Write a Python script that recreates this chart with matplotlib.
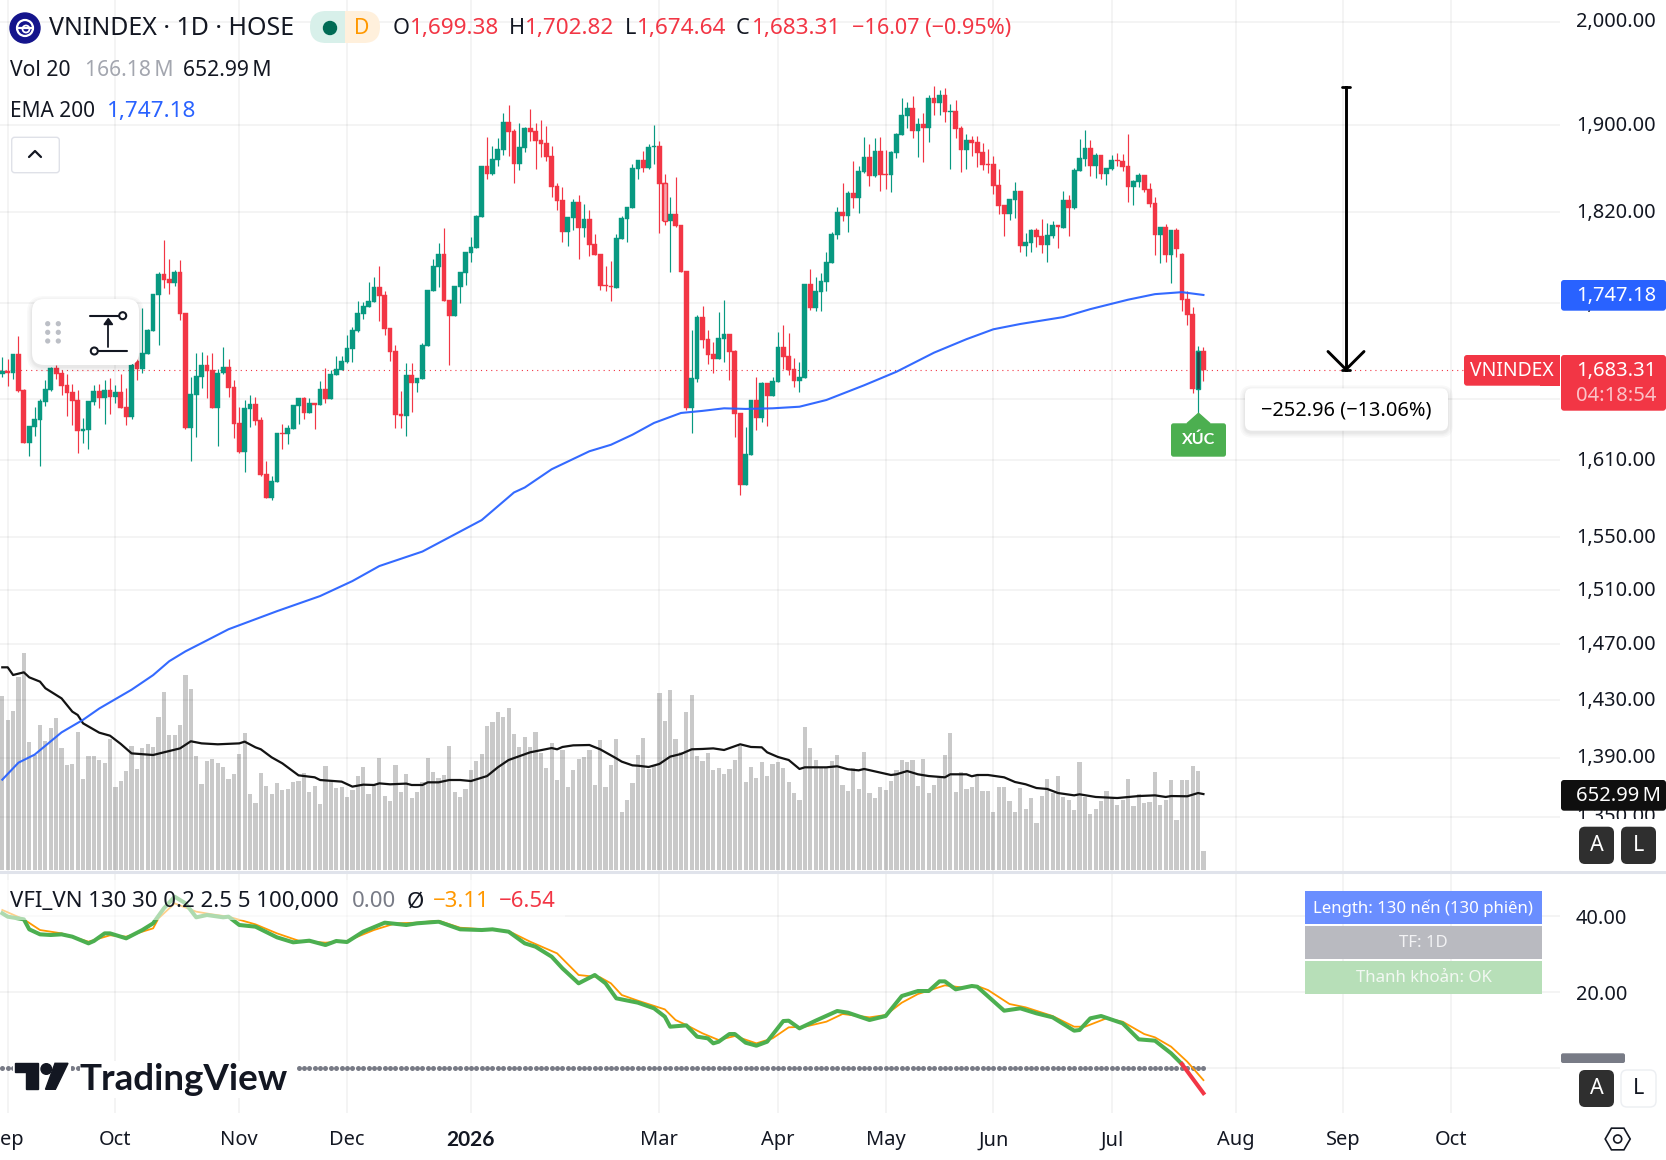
import numpy as np
import matplotlib
matplotlib.use('Agg')
from matplotlib import pyplot as plt
from matplotlib import patches as mpatches
from matplotlib.ticker import NullLocator
from matplotlib.transforms import ScaledTranslation

plt.rcParams['font.family'] = ['Noto Sans', 'DejaVu Sans']

# nến ngày
opens = [
    1680.5, 1682.7, 1681.3, 1697, 1667, 1624.2, 1637.1, 1642.5, 1657.5, 1667,
    1685, 1680.8, 1671.1, 1665.1, 1658.8, 1633.9, 1634.4, 1657.2, 1666.2, 1660.7,
    1667, 1661.5, 1665.4, 1653.1, 1645.2, 1691.4, 1684.7, 1697, 1716.7, 1747.2,
    1765.3, 1761, 1757.8, 1767.1, 1731.4, 1636, 1662.9, 1678, 1687.8, 1683.6,
    1652.6, 1680.8, 1686.1, 1669.5, 1639.8, 1616.8, 1651.5, 1655.5, 1642.5, 1599,
    1580, 1592.9, 1632, 1631.2, 1635, 1654.2, 1660.7, 1648.4, 1656.1, 1654.7,
    1667.8, 1659.6, 1679.4, 1683.6, 1690.3, 1701.4, 1716.4, 1730.8, 1737.1, 1741.1,
    1754, 1747.2, 1718.9, 1699.5, 1647.4, 1646, 1679.4, 1673, 1676, 1703.7,
    1750.6, 1771.5, 1783, 1742.9, 1729.1, 1754, 1766.3, 1783.8, 1788.5, 1815.8,
    1862.2, 1854.8, 1867.8, 1877, 1903.2, 1894.8, 1864.1, 1878.9, 1897.6, 1894.8,
    1886.3, 1883.5, 1871.5, 1843.9, 1831.2, 1802.5, 1814.9, 1829.4, 1806, 1814,
    1791.8, 1783, 1755.8, 1754.9, 1753.2, 1796.2, 1814, 1824, 1859.5, 1867.8,
    1860.4, 1879.8, 1880.7, 1846.3, 1812.3, 1818.5, 1808.7, 1768, 1652.3, 1676,
    1728.3, 1709.7, 1697, 1692.8, 1709.7, 1713.9, 1699.5, 1648.2, 1590.6, 1614.4,
    1658.8, 1644.1, 1672.7, 1662.1, 1673.6, 1702.8, 1695.3, 1684.4, 1674.4, 1676.9,
    1756.7, 1736, 1749.8, 1758.4, 1775, 1799.8, 1820.3, 1816.7, 1837.5, 1833,
    1856.7, 1870.6, 1853, 1876.1, 1854.5, 1853.9, 1874, 1890.7, 1908.8, 1916.4,
    1894.8, 1901.3, 1897.6, 1925.9, 1921.2, 1928.8, 1912.6, 1913.5, 1897.6, 1877,
    1886.3, 1884.2, 1875.2, 1864.1, 1864.1, 1844.8, 1826.6, 1818.5, 1831.2, 1839.3,
    1790, 1792.7, 1804.3, 1798.9, 1790.9, 1798.9, 1808.7, 1806, 1831.2, 1824,
    1857.6, 1868.7, 1878.9, 1862.2, 1872.4, 1854.8, 1859.5, 1867.8, 1866.9, 1862.2,
    1843, 1847.5, 1853.9, 1841.1, 1828.5, 1799.8, 1806.9, 1782.1, 1804.3, 1783,
    1743.7, 1730.8, 1667.8, 1699.38,
]
closes = [
    1682.7, 1681.3, 1697, 1666.2, 1624.2, 1637.7, 1643.3, 1658, 1667.8, 1685,
    1680.5, 1670.6, 1664.8, 1658.3, 1633.9, 1635.3, 1658, 1666.2, 1660.7, 1667,
    1661.5, 1665.4, 1652.6, 1645.2, 1687.8, 1684.7, 1697.5, 1717, 1748.1, 1765.3,
    1760.1, 1757.5, 1767.1, 1730.8, 1636, 1663.7, 1678.5, 1687.8, 1682.7, 1652.6,
    1681.3, 1686.1, 1668.9, 1639.3, 1616.8, 1652, 1655.5, 1641.7, 1598.5, 1580,
    1593.7, 1631.8, 1631.2, 1635.8, 1654.7, 1660.7, 1648.4, 1656.1, 1654.7, 1667.8,
    1659.6, 1680.2, 1684.1, 1691.1, 1702, 1717.3, 1731.7, 1737.7, 1742, 1754,
    1746.3, 1718.4, 1698.9, 1646.8, 1646, 1679.4, 1673, 1676.9, 1704.5, 1751.5,
    1772.4, 1783, 1742.3, 1729.1, 1754.9, 1767.1, 1784.7, 1789.1, 1816.7, 1862.2,
    1855.2, 1868.7, 1877.9, 1903.2, 1893.8, 1864.1, 1879.8, 1897.6, 1893.8, 1885.4,
    1882.6, 1870.6, 1843, 1830.3, 1802.5, 1815.8, 1829.4, 1806, 1814, 1790.9,
    1782.1, 1754.9, 1754.9, 1754, 1797.1, 1814.9, 1824.9, 1860.4, 1867.8, 1860.4,
    1879.8, 1880.7, 1845.7, 1812.6, 1818.5, 1807.8, 1767.1, 1652.3, 1676.9, 1728.3,
    1708.8, 1696.1, 1692.8, 1710.5, 1713.9, 1698.6, 1647.4, 1590.6, 1615.2, 1658.8,
    1644.1, 1672.7, 1662.1, 1674.4, 1702.8, 1694.5, 1683.6, 1674.4, 1677.7, 1756.7,
    1736, 1750.6, 1759.2, 1775.9, 1800.7, 1820.3, 1816.7, 1837.5, 1833, 1857.6,
    1870.6, 1853, 1876.1, 1853.9, 1853.9, 1875.2, 1891.6, 1909.7, 1916.4, 1894.8,
    1901.3, 1897.6, 1925.9, 1921.2, 1928.8, 1912.6, 1913.5, 1896.6, 1877, 1886.3,
    1883.5, 1874, 1863.2, 1863.2, 1843.9, 1825.7, 1818.5, 1832.1, 1839.3, 1790,
    1793.6, 1804.3, 1798, 1790.9, 1799.8, 1808.7, 1806.9, 1831.2, 1824, 1858.5,
    1869.7, 1878.9, 1862.2, 1872.4, 1854.8, 1860.4, 1867.8, 1866.9, 1861.3, 1843,
    1848.4, 1853.9, 1840.2, 1827.6, 1799.8, 1806.9, 1782.1, 1804.3, 1787.3, 1742.9,
    1730, 1667.8, 1699.5, 1683.31,
]
highs = [
    1694.2, 1692.5, 1697, 1712.2, 1667.6, 1637.7, 1652.8, 1659.4, 1675.2, 1686.4,
    1687.8, 1683.6, 1680.2, 1671.9, 1667, 1644.1, 1658, 1671.1, 1671.9, 1675.2,
    1676.6, 1671.1, 1680.2, 1668.4, 1689.2, 1700.3, 1735.8, 1717.8, 1748.1, 1766.8,
    1795.3, 1778.6, 1768.9, 1777.7, 1731.4, 1678, 1697.5, 1698.9, 1696.1, 1697.5,
    1684.1, 1703.1, 1692.5, 1675.2, 1652.8, 1658.8, 1662.9, 1661, 1644.7, 1609.6,
    1597.7, 1631.8, 1639, 1638.5, 1654.7, 1660.7, 1661.5, 1660.2, 1656.6, 1674.1,
    1685, 1683.6, 1695.6, 1695.6, 1713, 1719.5, 1742, 1741.4, 1758.7, 1763,
    1772.4, 1750.6, 1719.2, 1704.5, 1666.2, 1689.2, 1689.2, 1677.1, 1706, 1751.5,
    1778.6, 1792.4, 1806, 1742.9, 1754.9, 1767.1, 1784.7, 1798, 1817.6, 1862.2,
    1889.1, 1880.7, 1888.2, 1911.6, 1919.3, 1896.3, 1902.3, 1898.5, 1915.4, 1902,
    1905.1, 1899.4, 1880.7, 1846.6, 1843, 1815.8, 1832.1, 1835.7, 1827.6, 1822.1,
    1800.7, 1783, 1772.4, 1776.8, 1800.7, 1816.7, 1824.9, 1864.1, 1867.8, 1876.1,
    1882.6, 1900.4, 1885.4, 1854.8, 1833.9, 1852, 1808.7, 1768, 1717.3, 1730,
    1737.7, 1717.3, 1707, 1732.5, 1742.9, 1713.9, 1700.3, 1648.2, 1636.9, 1658.8,
    1677.7, 1673.6, 1672.7, 1677.7, 1715.6, 1721.5, 1714.7, 1693.6, 1690.3, 1756.7,
    1769.8, 1762.7, 1766.3, 1784.7, 1802.5, 1824.9, 1846.6, 1839.3, 1866.9, 1862.2,
    1889.1, 1882.6, 1888.2, 1889.1, 1877, 1876.1, 1892.6, 1925.9, 1922.1, 1927.8,
    1906.9, 1911.6, 1928.8, 1937.4, 1933.6, 1935.5, 1920.2, 1924, 1899.4, 1891.6,
    1889.8, 1889.8, 1883.5, 1877.9, 1871.5, 1859.5, 1826.6, 1832.1, 1847.5, 1839.3,
    1801.6, 1805.1, 1806, 1814, 1810.5, 1812.3, 1808.7, 1839.3, 1835.7, 1860.4,
    1887.3, 1895.7, 1886.3, 1874, 1872.4, 1860.4, 1872.4, 1874, 1873.3, 1891.6,
    1849.3, 1855.8, 1853.9, 1846.6, 1833.9, 1806.9, 1809.6, 1804.3, 1806, 1783.8,
    1750.6, 1736.9, 1703.7, 1702.82,
]
lows = [
    1678, 1670.6, 1676, 1665.6, 1624, 1613.6, 1629.6, 1605.6, 1653.9, 1666.5,
    1676, 1662.9, 1645.7, 1638.5, 1616.2, 1624.2, 1619.4, 1654.8, 1652, 1639.3,
    1647.1, 1656.1, 1652, 1638.5, 1643.6, 1675.2, 1681.3, 1697, 1716.7, 1704.9,
    1752.9, 1748.1, 1754.9, 1725.7, 1635.3, 1609.6, 1629.1, 1668.4, 1660.7, 1652.6,
    1621.5, 1680.2, 1661.5, 1627.7, 1615.7, 1600.9, 1637.1, 1638.5, 1598, 1580,
    1578.9, 1592.9, 1619.1, 1623.1, 1635, 1639.3, 1643.3, 1647.9, 1635.3, 1654.7,
    1656.6, 1659.6, 1679.4, 1683.6, 1689.7, 1690.3, 1715.8, 1726.6, 1737.1, 1741.1,
    1725.2, 1713, 1691.1, 1636.3, 1636.3, 1629.6, 1649.3, 1665.6, 1676, 1703.7,
    1750.6, 1754.4, 1742.3, 1687.8, 1729.1, 1740.6, 1755.8, 1775.6, 1788.5, 1815.8,
    1850.2, 1853.9, 1862.2, 1872.4, 1871.5, 1846.6, 1858.5, 1875.2, 1885.4, 1859.5,
    1870.6, 1866.9, 1833.9, 1822.1, 1793.6, 1790, 1804.3, 1778.6, 1798, 1781.2,
    1782.1, 1751.5, 1750.6, 1742, 1753.2, 1796.2, 1793.6, 1824, 1850.2, 1856.7,
    1859.5, 1864.1, 1801.6, 1808.7, 1767.1, 1806.9, 1767.1, 1650.6, 1632, 1673.6,
    1702, 1688.6, 1681, 1692.8, 1690.3, 1675.2, 1628.8, 1582.8, 1590.6, 1614.4,
    1634.4, 1640.9, 1637.7, 1662.1, 1673.6, 1684.4, 1679.4, 1669.5, 1665.4, 1676.9,
    1734.2, 1733.4, 1733.4, 1750.6, 1775, 1796.2, 1812.3, 1802.5, 1824, 1819.4,
    1855.8, 1843.9, 1852, 1839.3, 1841.1, 1838.4, 1869.7, 1890.7, 1897.6, 1888.2,
    1870.6, 1865.9, 1884.5, 1909.7, 1909.7, 1903.2, 1859.5, 1888.2, 1856.7, 1859.5,
    1871.5, 1861, 1858.5, 1855.8, 1836.6, 1818.5, 1798.9, 1813.2, 1814.9, 1784.7,
    1781.2, 1784.7, 1789.1, 1783.8, 1775.9, 1797.1, 1788.2, 1806, 1798.9, 1823.1,
    1857.6, 1862.2, 1853, 1851.2, 1850.2, 1844.8, 1858.5, 1862.2, 1857.6, 1829.4,
    1826.6, 1843, 1838.4, 1824.9, 1782.1, 1775, 1775.9, 1757.5, 1780.3, 1733.4,
    1721.5, 1664.6, 1647.9, 1674.64,
]

# khối lượng (triệu)
volumes = [
    1497, 1290, 1370, 1663, 1869, 1101, 989, 1247, 1110, 1221,
    1307, 1049, 903, 912, 1187, 783, 981, 981, 946, 920,
    1127, 714, 765, 852, 1067, 869, 1049, 1084, 1058, 1316,
    1531, 1161, 1161, 1247, 1677, 1557, 981, 740, 938, 955,
    920, 886, 783, 826, 998, 1178, 654, 576, 834, 722,
    654, 748, 688, 697, 757, 765, 834, 671, 722, 568,
    895, 765, 705, 714, 628, 688, 808, 886, 654, 731,
    963, 636, 593, 903, 671, 826, 619, 671, 757, 963,
    843, 791, 817, 1067, 671, 628, 697, 860, 938, 998,
    1239, 1273, 1359, 1316, 1393, 1170, 1058, 1144, 1058, 1187,
    1006, 877, 1092, 774, 1032, 714, 860, 955, 972, 1032,
    731, 1118, 714, 903, 1127, 499, 602, 748, 989, 1135,
    869, 903, 1522, 1282, 1548, 1127, 1015, 1359, 1505, 981,
    938, 1006, 860, 877, 826, 869, 946, 1067, 757, 886,
    791, 929, 808, 912, 929, 877, 757, 662, 602, 1230,
    1049, 946, 877, 877, 938, 989, 731, 679, 877, 697,
    1015, 662, 619, 714, 688, 765, 860, 946, 929, 946,
    722, 955, 662, 731, 791, 989, 1178, 671, 843, 697,
    714, 817, 679, 679, 499, 714, 714, 593, 499, 705,
    525, 619, 404, 636, 783, 662, 808, 628, 602, 516,
    929, 628, 482, 525, 593, 679, 628, 559, 602, 783,
    550, 654, 576, 585, 843, 559, 602, 774, 430, 774,
    774, 895, 851, 166.18,
]
vol_ma_sessions = [
    0, 1, 2, 4, 5, 7, 8, 11, 13, 14, 15, 18, 20, 22, 24, 28, 30, 33, 35, 37, 40,
    44, 45, 47, 48, 50, 52, 55, 58, 59, 63, 65, 67, 69, 70, 72, 75, 76, 78, 79,
    81, 83, 85, 87, 90, 92, 94, 98, 102, 103, 104, 106, 109, 111, 114, 115, 117,
    118, 120, 122, 124, 126, 128, 130, 132, 134, 137, 139, 141, 142, 144, 146,
    148, 149, 153, 155, 157, 159, 160, 165, 166, 168, 170, 172, 175, 176, 179,
    180, 181, 183, 186, 188, 190, 192, 194, 196, 199, 200, 203, 207, 211, 214,
    216, 217, 220, 222, 223,
]
vol_ma_values = [
    1743, 1743, 1677, 1700, 1657, 1620, 1563, 1476, 1362, 1333, 1261, 1181, 1155,
    1084, 1003, 989, 1012, 1046, 1107, 1089, 1081, 1089, 1104, 1055, 1038, 969,
    917, 814, 797, 774, 760, 717, 734, 731, 745, 737, 743, 731, 731, 754, 754,
    774, 774, 765, 808, 883, 946, 1012, 1049, 1038, 1058, 1072, 1075, 1038, 960,
    932, 900, 897, 886, 912, 975, 998, 1038, 1041, 1046, 1032, 1081, 1058, 1055,
    1012, 972, 946, 869, 883, 883, 892, 866, 857, 869, 817, 823, 851, 823, 808,
    797, 823, 823, 806, 817, 817, 797, 757, 737, 705, 697, 662, 642, 651, 628,
    619, 636, 642, 628, 636, 634, 662, 652.99,
]

# EMA 200
ema_sessions = [
    0, 3, 6, 11, 15, 18, 24, 28, 31, 34, 38, 42, 51, 59, 65, 70, 78, 83, 89, 95,
    97, 102, 109, 113, 117, 121, 126, 130, 134, 138, 143, 148, 153, 160, 166,
    173, 179, 184, 189, 197, 202, 209, 214, 219, 223,
]
ema_values = [
    1375, 1386.6, 1392.1, 1407.5, 1416.3, 1424.2, 1437.5, 1447.9, 1457.9, 1465,
    1473, 1481.1, 1494.4, 1505.6, 1516.8, 1528.1, 1539.1, 1550, 1563.2, 1584.7,
    1588.6, 1603, 1617.3, 1622.5, 1630.6, 1640.1, 1648.2, 1649.9, 1652, 1651.5,
    1652, 1653.3, 1658.8, 1670.9, 1682.1, 1698.1, 1709.4, 1717.8, 1722.3, 1728.2,
    1735, 1743.1, 1747.9, 1749.6, 1747.18,
]

# VFI_VN
vfi_sessions = [
    0, 1, 4, 5, 7, 9, 11, 13, 16, 17, 19, 20, 23, 26, 28, 30, 32, 34, 36, 38, 41,
    42, 44, 47, 51, 54, 57, 60, 62, 64, 67, 71, 75, 77, 81, 85, 89, 91, 94, 97,
    99, 102, 104, 107, 110, 112, 114, 118, 121, 123, 124, 127, 129, 131, 132, 133,
    135, 136, 138, 140, 142, 145, 146, 148, 151, 155, 157, 161, 164, 167, 170,
    172, 174, 175, 177, 180, 181, 186, 189, 192, 195, 199, 200, 202, 204, 208,
    211, 214, 217, 219,
]
vfi_values = [
    40.78, 39.9, 39.2, 36.57, 35.25, 35.08, 35.25, 34.64, 32.88, 33.5, 35.51,
    35.51, 34.2, 36.39, 38.15, 42.09, 45.16, 43.41, 39.73, 40.34, 39.73, 39.9,
    37.71, 37.27, 34.46, 33.15, 33.58, 32.44, 33.5, 33.23, 35.95, 38.32, 37.71,
    38.15, 38.58, 36.57, 36.39, 36.57, 35.95, 32.88, 32.0, 29.37, 26.3, 22.36,
    24.55, 22.36, 18.41, 17.27, 15.78, 13.59, 10.95, 11.3, 8.32, 7.88, 6.57, 7.0,
    9.02, 9.02, 6.74, 5.95, 7.0, 12.44, 12.53, 10.51, 12.53, 15.08, 14.64, 12.71,
    13.76, 19.02, 20.34, 20.34, 22.88, 22.88, 20.78, 21.66, 21.48, 15.16, 15.78,
    14.46, 13.41, 9.9, 10.08, 13.15, 13.76, 11.83, 7.62, 7.27, 3.94, 1.13,
]
vfi_neg_sessions = [219, 223]
vfi_neg_values = [1.13, -6.54]
signal_sessions = [
    0, 4, 7, 11, 16, 20, 23, 28, 29, 32, 36, 39, 42, 47, 51, 55, 60, 64, 69, 73,
    77, 81, 85, 94, 98, 103, 107, 111, 113, 115, 118, 123, 125, 127, 130, 133,
    136, 140, 143, 146, 149, 153, 156, 161, 164, 167, 170, 175, 178, 181, 183,
    187, 190, 195, 199, 201, 205, 208, 212, 214, 217, 220, 223,
]
signal_values = [
    41.66, 39.2, 36.39, 35.51, 33.32, 35.0, 34.64, 36.83, 39.46, 43.41, 41.22,
    40.5, 39.9, 37.88, 35.51, 33.58, 33.06, 33.5, 36.39, 38.15, 38.32, 38.85, 37.0,
    36.13, 33.32, 30.25, 24.55, 23.94, 22.36, 19.29, 17.8, 15.51, 12.71, 11.39,
    9.2, 7.44, 8.5, 6.57, 7.88, 10.78, 10.95, 12.27, 14.29, 13.41, 14.02, 17.27,
    19.55, 21.83, 21.3, 21.66, 20.6, 16.92, 16.04, 13.76, 10.95, 10.95, 13.15,
    12.27, 9.02, 8.15, 5.69, 1.74, -3.11,
]

price_ticks = [2000, 1900, 1820, 1740, 1660, 1610, 1550, 1510, 1470, 1430, 1390, 1350]
vfi_ticks = [40, 20, 0]
time_ticks = [1, 21, 44, 64, 87, 122, 144, 164, 184, 206, 229, 249, 269]
time_labels = ['Sep', 'Oct', 'Nov', 'Dec', '2026', 'Mar', 'Apr', 'May', 'Jun', 'Jul', 'Aug', 'Sep', 'Oct']
last_close = 1683.31
arrow_from = 1936.27
arrow_session = 249.5

GREEN = '#089981'
RED = '#f23645'
BLUE = '#2962ff'
TEXT = '#131722'
THIN = '\u2009'
W, H = 1666, 1160
PANE1_BOTTOM = 871
PANE2_TOP, PANE2_BOTTOM = 874, 1113
SCALE_LEFT = 1560
# session -> pixel: x = 2.3 + 5.386 * i
XLIM = (-0.427, 289.2)


def rect_of(top, bottom, right=SCALE_LEFT):
    return [0, (H - bottom) / H, right / W, (bottom - top) / H]


def clean(ax):
    for spine in ax.spines.values():
        spine.set_visible(False)
    ax.patch.set_alpha(0)
    ax.tick_params(length=0)


fig = plt.figure(figsize=(W / 100, H / 100), dpi=100, facecolor='white')
sessions = np.arange(len(opens))

# khối lượng nằm dưới nến
vol_ax = fig.add_axes(rect_of(0, PANE1_BOTTOM), zorder=1)
vol_ax.bar(sessions, volumes, width=0.78, color='#c9c9c9', linewidth=0)
vol_ax.plot(vol_ma_sessions, vol_ma_values, color='#131313', lw=1.6, solid_joinstyle='round')
vol_ax.set_xlim(XLIM)
vol_ax.set_ylim(-8.6, 870 * 8.6)
vol_ax.axis('off')

# giá
ax = fig.add_axes(rect_of(0, PANE1_BOTTOM), zorder=2)
clean(ax)
ax.set_yscale('log')
ax.set_xlim(XLIM)
ax.set_ylim(1314.3, 2021.4)
ax.yaxis.set_minor_locator(NullLocator())
ax.set_yticks(price_ticks)
ax.set_yticklabels([f'{p:,.2f}' for p in price_ticks], fontsize=14.4, color=TEXT)
ax.yaxis.tick_right()
ax.tick_params(axis='y', pad=11.5)
for tick in ax.yaxis.get_major_ticks():
    tick.label2.set_transform(tick.label2.get_transform() + ScaledTranslation(0, 2 / 100, fig.dpi_scale_trans))
ax.set_xticks(time_ticks)
ax.set_xticklabels([])
ax.grid(True, color='black', alpha=0.055, lw=1.1, zorder=0)
ax.set_axisbelow(True)

colors = [GREEN if c >= o else RED for o, c in zip(opens, closes)]
ax.axhline(last_close, color=RED, lw=0.8, ls=(0, (1, 3.6)), zorder=1)
ax.vlines(sessions, lows, highs, colors=colors, lw=0.85, zorder=2)
body_low = np.minimum(opens, closes)
body_high = np.maximum(opens, closes)
ax.bar(sessions, body_high - body_low, bottom=body_low, width=0.88, color=colors,
       edgecolor=colors, linewidth=0.3, zorder=3)
# 2 nến đang được chọn
ax.bar([123], [opens[123] - closes[123]], bottom=[closes[123]], width=0.72,
       color='#f5a3ab', edgecolor=RED, linewidth=1, zorder=4)
ax.bar([222], [closes[222] - opens[222]], bottom=[opens[222]], width=0.72,
       color='#2c3e48', edgecolor=GREEN, linewidth=1, zorder=4)
ax.plot(ema_sessions, ema_values, color=BLUE, lw=1.5, zorder=5, alpha=0.95)
ax.plot([arrow_session, arrow_session], [arrow_from, last_close], color='black', lw=2.1, zorder=6)

# VFI
osc = fig.add_axes(rect_of(PANE2_TOP, PANE2_BOTTOM), zorder=2)
clean(osc)
osc.set_xlim(XLIM)
osc.set_ylim(-11.76, 51.13)
osc.set_yticks(vfi_ticks)
osc.set_yticklabels(['0.00' if v == 0 else f'{v:.2f}' for v in vfi_ticks], fontsize=14.4, color=TEXT)
osc.get_yticklabels()[-1].set_visible(False)
osc.yaxis.tick_right()
osc.tick_params(axis='y', pad=11.5)
osc.set_xticks(time_ticks)
osc.set_xticklabels(time_labels, fontsize=14.4, color=TEXT)
osc.tick_params(axis='x', pad=12.5)
bold_tick = osc.get_xticklabels()[4]
bold_tick.set_fontfamily('Lato')
bold_tick.set_fontweight('bold')
bold_tick.set_fontsize(15)
osc.grid(True, color='black', alpha=0.055, lw=1.1, zorder=0)
osc.set_axisbelow(True)
osc.plot(sessions, np.zeros(len(sessions)), ls='none', marker='o', ms=3.6, color='#787b86', mew=0, zorder=2)
osc.plot(signal_sessions, signal_values, color='#ff9800', lw=1.3, zorder=3)
osc.plot(vfi_sessions, vfi_values, color='#4caf50', lw=2.9, zorder=4, solid_joinstyle='round')
osc.plot(vfi_neg_sessions, vfi_neg_values, color=RED, lw=2.9, zorder=5)

# lớp giao diện, toạ độ pixel
ui = fig.add_axes([0, 0, 1, 1], zorder=5)
ui.set_xlim(0, W)
ui.set_ylim(H, 0)
ui.axis('off')


def box(x0, y0, x1, y1, color, round_px=0, edge='none', lw=0, alpha=None, z=2):
    style = f'round,pad=0,rounding_size={round_px}' if round_px else 'square,pad=0'
    p = mpatches.FancyBboxPatch((x0, y0), x1 - x0, y1 - y0, boxstyle=style, facecolor=color,
                                edgecolor=edge, linewidth=lw, alpha=alpha, zorder=z)
    ui.add_patch(p)


def shadow(x0, y0, x1, y1, round_px):
    for grow in (5, 3.5, 2, 1):
        box(x0 - grow, y0 - grow + 2, x1 + grow, y1 + grow + 2, 'black', round_px + grow, alpha=0.022, z=2)


def label(x, y, s, color=TEXT, size=15.2, ha='left', weight='normal', z=4, **kw):
    ui.text(x, y + 2.3, s, color=color, fontsize=size, ha=ha, va='center', weight=weight, zorder=z, **kw)


def seg(xs, ys, color='black', lw=1.5, z=3):
    ui.plot(xs, ys, color=color, lw=lw, zorder=z, solid_capstyle='round')


# dải phân cách và phần che thang giá
seg([0, W], [871.7, 871.7], '#e0e3eb', 2.2, 2)
box(1561, 819, W, 871, 'white')
box(1561, 1063, W, 1113, 'white', z=3)

# legend trên cùng
ui.add_patch(mpatches.Circle((25, 28), 15, color='#14148c', zorder=3))
ui.add_patch(mpatches.Circle((25, 28), 8, fill=False, edgecolor='white', lw=1.6, zorder=4))
seg([18, 32], [28, 28], 'white', 1.6, 4)
ui.add_patch(mpatches.Circle((26, 29), 3.5, fill=False, edgecolor='white', lw=1.3, zorder=4))
label(49, 26, 'VNINDEX · 1D · HOSE', size=18)
box(310, 11, 360, 43, '#d8f0ea', 16)
box(345, 11, 380, 43, '#fff0dc', 16)
box(345, 11, 362, 43, '#fff0dc', 0)
ui.add_patch(mpatches.Circle((330, 28), 6.5, color='#006b55', zorder=3))
label(361.5, 26, 'D', '#ff9800', 15.2, ha='center')
for x, s in [(393, 'O'), (509, 'H'), (625, 'L'), (736, 'C')]:
    label(x, 26, s, size=15.6)
for x, s in [(410, '1,699.38'), (525, '1,702.82'), (636.5, '1,674.64'), (752, '1,683.31')]:
    label(x, 26, s, RED, 16.2)
label(852, 26, '−16.07 (−0.95%)', RED, 15.6)
label(10.5, 68, 'Vol 20')
label(85.4, 68, f'166.18{THIN}M', '#a3a6af')
label(182.7, 68, f'652.99{THIN}M')
label(10.5, 109.5, 'EMA 200', size=15)
label(106.5, 109.5, '1,747.18', BLUE, 16.2)
box(11.7, 137.3, 59.3, 172.7, 'white', 3, '#dfe1e8', 1)
seg([29, 35, 41], [157, 151, 157], TEXT, 1.6, 4)

# khung công cụ nổi
shadow(32, 299, 139, 365, 12)
box(32, 299, 139, 365, 'white', 12)
for dx in (47.7, 58.3):
    for dy in (323.7, 332.3, 341):
        ui.add_patch(mpatches.Circle((dx, dy), 1.9, color='#bcbfc6', zorder=3))
seg([90, 119.3], [315.7, 315.7], '#131722', 1.5)
seg([97.7, 126.7], [351, 351], '#131722', 1.5)
ui.add_patch(mpatches.Circle((122.7, 315.7), 3.5, facecolor='white', edgecolor='#131722', lw=1.5, zorder=4))
ui.add_patch(mpatches.Circle((94.3, 351), 3.5, facecolor='white', edgecolor='#131722', lw=1.5, zorder=4))
seg([108.3, 108.3], [322, 347], '#131722', 1.3)
ui.add_patch(mpatches.Polygon([(108.3, 318.5), (104, 324.5), (112.6, 324.5)], color='#131722', zorder=4))

# đầu mũi tên + khung đo
seg([1342, 1350], [87, 87], 'black', 2)
seg([1328, 1346, 1364], [351.5, 369.5, 351.5], 'black', 2.1)
seg([1342, 1350], [370, 370], 'black', 2)
shadow(1245, 388.3, 1448, 430.7, 7)
box(1245, 388.3, 1448, 430.7, 'white', 7)
label(1346.5, 408.5, '−252.96 (−13.06%)', 'black', 14.4, ha='center')

# nhãn XÚC
ui.add_patch(mpatches.Polygon([(1187, 423.5), (1198.5, 413.3), (1210, 423.5)], color='#4caf50', zorder=3))
box(1171, 423.3, 1226, 456.7, '#4caf50', 2.5)
label(1198.5, 437.5, 'XÚC', 'white', 11.5, ha='center', weight='bold', family='Lato')

# các thẻ trên thang giá
box(1561, 280, 1666, 310.7, BLUE, 3)
label(1576, 293.5, '1,747.18', 'white', 14.5)
box(1464, 355, 1560, 385.7, RED, 3)
box(1540, 355, 1560, 385.7, RED)
label(1512, 369, 'VNINDEX', 'white', 13.9, ha='center')
box(1561, 355, 1666, 410.7, RED, 3)
label(1576, 368.5, '1,683.31', 'white', 14.5)
label(1576, 393.5, '04:18:54', '#fbc2c7', 14.5)
box(1561, 780, 1666, 810.7, '#0f0f0f', 3)
label(1576, 794, f'652.99{THIN}M', 'white', 14.5)
box(1561, 1053.3, 1625, 1063, '#787b86', 2, z=4)

# nút A / L
box(1579, 826.7, 1614, 864, '#2f2f2f', 6)
label(1596.5, 843.5, 'A', 'white', 15.5, ha='center')
box(1621, 826.7, 1656, 864, '#2f2f2f', 6)
label(1638.5, 843.5, 'L', 'white', 15.5, ha='center')
box(1579, 1070, 1614, 1107, '#2f2f2f', 6, z=4)
label(1596.5, 1086.5, 'A', 'white', 15.5, ha='center', z=5)
box(1621, 1070, 1656, 1107, 'white', 6, '#eceef2', 1, z=4)
label(1638.5, 1086.5, 'L', TEXT, 15.5, ha='center', z=5)

# nền mờ legend VFI
box(0, 880, 565, 920, 'white', alpha=0.55)
label(10, 899.5, 'VFI_VN 130 30 0.2 2.5 5 100,000', size=16)
label(352, 899.5, '0.00', '#787b86', size=16)
label(407, 899.5, 'Ø', size=16)
label(433, 899.5, '−3.11', '#ff9800', size=16)
label(499, 899.5, '−6.54', RED, size=16)

# 3 ô thông tin
box(1305, 891, 1542, 924, '#6a8eff')
box(1305, 926, 1542, 959, '#b9bac0')
box(1305, 961, 1542, 994, '#b7dfb8')
label(1423.5, 905.5, 'Length: 130 nến (130 phiên)', 'white', 12.1, ha='center')
label(1423.5, 940.5, 'TF: 1D', '#f2f2f4', 12.1, ha='center')
label(1423.5, 975.5, 'Thanh khoản: OK', '#f2f8f2', 12.1, ha='center')

# logo
box(13, 1061, 71, 1091, 'white')
box(80, 1061, 297, 1098, 'white')
ui.add_patch(mpatches.Polygon([(15, 1063.3), (37.6, 1063.3), (37.6, 1089.3), (25.7, 1089.3), (25.7, 1072), (15, 1072)],
                              color='#131722', zorder=4))
ui.add_patch(mpatches.Circle((46.3, 1069), 5.3, color='#131722', zorder=4))
ui.add_patch(mpatches.Polygon([(55, 1063.3), (68, 1063.3), (55.4, 1089.3), (45.5, 1089.3)], color='#131722', zorder=4))
label(80, 1077.5, 'TradingView', '#131722', 26.5, weight='bold', family='Lato')

# icon cài đặt
ui.add_patch(mpatches.RegularPolygon((1617.7, 1139), 6, radius=12.5, orientation=np.pi / 6,
                                     fill=False, edgecolor=TEXT, lw=1.2, zorder=4))
ui.add_patch(mpatches.Circle((1617.7, 1139), 4, fill=False, edgecolor=TEXT, lw=1.2, zorder=4))

fig.savefig('out.png', dpi=100)
